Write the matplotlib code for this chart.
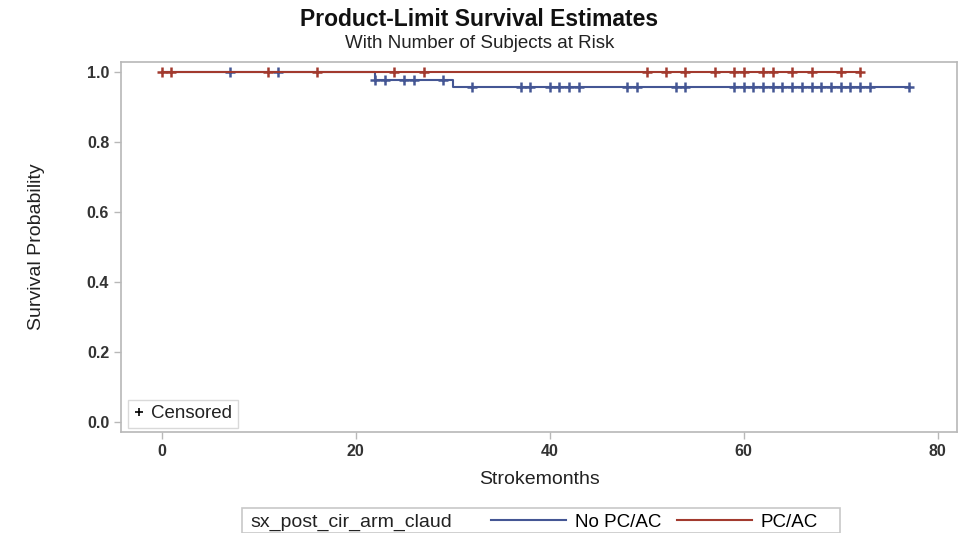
import matplotlib
matplotlib.use("Agg")
import numpy as np
import matplotlib.pyplot as plt
from matplotlib.lines import Line2D
from matplotlib.patches import Rectangle

plt.rcParams['font.family'] = ['Liberation Sans', 'DejaVu Sans']

# Kaplan-Meier curves
blue_event_t = [22, 30]
blue_surv = [0.979, 0.958]
blue_end = 77
blue_cens = [7, 12, 22, 23, 25, 26, 29, 32, 37, 38, 40, 41, 42, 43, 48, 49, 53, 54,
             59, 60, 61, 62, 63, 64, 65, 66, 67, 68, 69, 70, 71, 72, 73, 77]

red_event_t = []
red_surv = []
red_end = 72
red_cens = [0, 1, 11, 16, 24, 27, 50, 52, 54, 57, 59, 60, 62, 63, 65, 67, 70, 72]

xticks = [0, 20, 40, 60, 80]
yticks = [0.0, 0.2, 0.4, 0.6, 0.8, 1.0]

blue = '#445694'
red = '#A23A2E'
grey = '#B8B8B8'
txt = '#333333'


def km_curve(ev_t, surv, end):
    t = [0] + list(ev_t) + [end]
    s = [1.0] + list(surv) + [surv[-1] if surv else 1.0]
    return t, s


def surv_at(x, ev_t, surv):
    s = 1.0
    for t, v in zip(ev_t, surv):
        if x >= t:
            s = v
    return s


fig = plt.figure(figsize=(9.59, 5.33), dpi=100)
ax = fig.add_axes([121 / 959, 1 - 432 / 533, (957 - 121) / 959, (432 - 62) / 533])

for ev, sv, end, cens, col in [(blue_event_t, blue_surv, blue_end, blue_cens, blue),
                               (red_event_t, red_surv, red_end, red_cens, red)]:
    t, s = km_curve(ev, sv, end)
    ax.step(t, s, where='post', color=col, lw=1.5)
    cy = [surv_at(c, ev, sv) for c in cens]
    ax.plot(cens, cy, linestyle='none', marker='+', color=col, ms=6.5, mew=1.8)

ax.set_xlim(-4.2, 82)
ax.set_ylim(-0.03, 1.03)
ax.set_xticks(xticks)
ax.set_yticks(yticks)
ax.set_yticklabels(['%.1f' % v for v in yticks])
ax.tick_params(colors=grey, labelcolor=txt, labelsize=11.5, length=5, width=1)
for lab in ax.get_xticklabels() + ax.get_yticklabels():
    lab.set_fontweight('bold')
for sp in ax.spines.values():
    sp.set_color(grey)
    sp.set_linewidth(1.2)

ax.set_xlabel('Strokemonths', fontsize=14, color='#222222', labelpad=9)
ax.set_ylabel('Survival Probability', fontsize=14, color='#222222', labelpad=30)

cens_h = Line2D([], [], linestyle='none', marker='+', color='black', ms=6, mew=1.2)
lg = ax.legend([cens_h], ['Censored'], loc='lower left', fontsize=13.5,
               handlelength=0.6, handletextpad=0.35, borderpad=0.3, borderaxespad=0,
               fancybox=False, edgecolor='#D0D0D0', bbox_to_anchor=(0.008, 0.011))
lg.get_frame().set_linewidth(1.0)
lg.get_texts()[0].set_color('#222222')

fig.text(0.5, 1 - 19 / 533, 'Product-Limit Survival Estimates', ha='center', va='center',
         fontsize=16.5, fontweight='bold', color='#111111')
fig.text(0.5, 1 - 43 / 533, 'With Number of Subjects at Risk', ha='center', va='center',
         fontsize=13.5, color='#222222')

# bottom legend
fig.patches.append(Rectangle((242 / 959, 0), (840 - 242) / 959, (533 - 508) / 533,
                             transform=fig.transFigure, fill=False,
                             edgecolor='#C8C8C8', lw=1.2))
fig.text(250 / 959, 1 - 522 / 533, 'sx_post_cir_arm_claud', ha='left', va='center',
         fontsize=14, color='#222222')
handles = [Line2D([], [], color=blue, lw=1.5), Line2D([], [], color=red, lw=1.5)]
fig.legend(handles, ['No PC/AC', 'PC/AC'], ncol=2, frameon=False, fontsize=13.5,
           loc='center left', bbox_to_anchor=(474 / 959, 1 - 522 / 533),
           handlelength=4.0, handletextpad=0.5, columnspacing=0.8)

fig.savefig('out.png', dpi=100)
